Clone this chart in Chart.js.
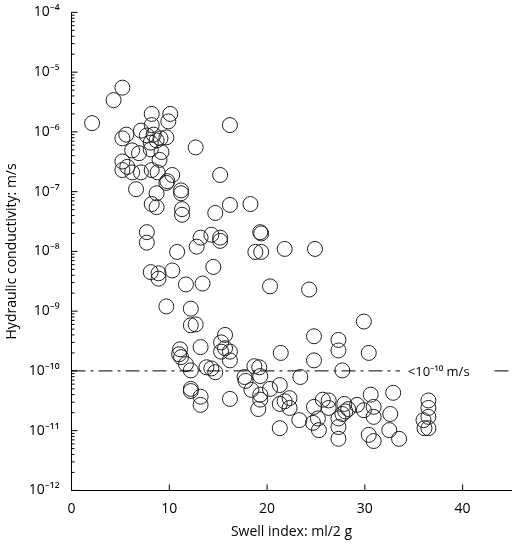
<!DOCTYPE html>
<html><head><meta charset="utf-8">
<script src="https://cdn.jsdelivr.net/npm/chart.js@4"></script>
<style>body{margin:0;background:#fff}#w{width:520px;height:544px}</style>
</head><body><div id="w"><canvas id="c"></canvas></div>
<script>
const swellIndex=[5.2,4.3,2.1,8.2,10.1,9.9,8.2,16.2,7.1,7.7,8.4,9.1,9.7,8.7,8.1,5.6,5.2,12.7,6.2,6.9,8.1,9.2,9.0,5.2,5.7,5.2,6.2,7.1,8.2,8.8,15.2,10.3,9.8,9.7,6.6,11.2,11.2,8.7,8.2,8.7,16.2,18.3,11.3,11.3,14.7,7.7,7.7,13.2,14.3,15.2,15.2,12.8,19.3,19.4,18.8,19.4,21.8,10.8,14.5,8.1,8.9,8.9,10.3,11.7,13.4,20.3,9.7,12.2,24.9,24.3,
12.2,12.7,15.7,15.3,13.2,11.1,11.0,11.2,11.7,12.2,13.8,14.3,14.7,15.3,16.2,16.2,15.7,18.7,19.2,19.3,17.7,17.8,18.4,20.3,21.3,19.3,19.3,19.1,16.2,12.2,12.2,13.2,13.2,21.4,24.8,24.8,27.3,27.3,27.7,29.9,30.4,23.4,21.3,22.3,21.8,22.3,24.8,25.2,24.7,25.3,23.3,21.3,25.7,26.3,26.3,27.9,29.2,28.3,28.0,27.7,27.3,27.3,27.3,29.9,30.9,30.9,30.6,32.9,32.6,32.5,30.4,30.9,33.5,36.5,36.5,36.5,36.0,36.5,36.1];
const conductivity=[5.5e-6,3.4e-6,1.4e-6,2.0e-6,2.0e-6,1.5e-6,1.3e-6,1.3e-6,1.05e-6,8.7e-7,9e-7,7.8e-7,8.1e-7,7.2e-7,6.6e-7,9e-7,7.8e-7,5.5e-7,4.9e-7,4.4e-7,5.1e-7,4.6e-7,3.4e-7,3.2e-7,2.6e-7,2.3e-7,2.1e-7,2.1e-7,2.3e-7,2.1e-7,1.9e-7,1.9e-7,1.5e-7,1.4e-7,1.1e-7,1.05e-7,9.4e-8,9.4e-8,6.2e-8,5.5e-8,6e-8,6.2e-8,5.1e-8,4.1e-8,4.4e-8,2.1e-8,1.4e-8,1.7e-8,1.9e-8,1.7e-8,1.5e-8,1.2e-8,2.1e-8,2.0e-8,9.8e-9,9.8e-9,1.1e-8,9.8e-9,5.5e-9,4.5e-9,4.3e-9,3.5e-9,4.8e-9,2.8e-9,2.9e-9,2.6e-9,1.2e-9,1.1e-9,1.1e-8,2.3e-9,
5.8e-10,6e-10,4e-10,3e-10,2.5e-10,2.3e-10,1.9e-10,1.7e-10,1.3e-10,1.02e-10,1.15e-10,1.1e-10,9.5e-11,2.1e-10,2.1e-10,1.5e-10,2.4e-10,1.2e-10,1.15e-10,8.2e-11,7.9e-11,6.8e-11,4.8e-11,5e-11,5.8e-11,4e-11,3.3e-11,2.3e-11,3.4e-11,5e-11,4.6e-11,3.7e-11,2.7e-11,2e-10,3.8e-10,1.5e-10,3.3e-10,2.2e-10,1.02e-10,6.7e-10,2e-10,7.9e-11,2.8e-11,3.5e-11,3.1e-11,2.4e-11,2.5e-11,1.6e-11,1.35e-11,1.02e-11,1.5e-11,1.1e-11,3.3e-11,3.2e-11,2.4e-11,2.8e-11,2.7e-11,2.3e-11,2.1e-11,1.9e-11,1.6e-11,1.15e-11,7.3e-12,2.2e-11,2.5e-11,1.7e-11,4e-11,4.3e-11,1.9e-11,1.02e-11,8.5e-12,6.7e-12,7.3e-12,3.2e-11,2.4e-11,1.7e-11,1.5e-11,1.1e-11,1.1e-11];
const xTicks=[0,10,20,30,40];
const yTicks=[1e-12,1e-11,1e-10,1e-9,1e-8,1e-7,1e-6,1e-5,1e-4];
const yTickLabels=['10⁻¹²','10⁻¹¹','10⁻¹⁰','10⁻⁹','10⁻⁸','10⁻⁷','10⁻⁶','10⁻⁵','10⁻⁴'];
const limitValue=1e-10, limitLabel='<10⁻¹⁰ m/s';
const FONT='"Open Sans", sans-serif';
const limitPlugin={id:'limit',afterDatasetsDraw(ch){
  const c=ch.ctx,a=ch.chartArea,ys=ch.scales.y,y=ys.getPixelForValue(limitValue);
  const tx=ch.scales.x.getPixelForValue(34.4);
  c.save();c.strokeStyle='#000';c.lineWidth=1;
  // minor ticks on y axis
  c.beginPath();
  for(let d=-12;d<-4;d++)for(let m=2;m<=9;m++){const p=ys.getPixelForValue(m*Math.pow(10,d));c.moveTo(a.left,p);c.lineTo(a.left+3,p);}
  yTicks.forEach(v=>{const p=ys.getPixelForValue(v);c.moveTo(a.left,p);c.lineTo(a.left+6,p);});
  ch.scales.x.ticks.forEach(t=>{const p=ch.scales.x.getPixelForValue(t.value);c.moveTo(p,a.bottom);c.lineTo(p,a.bottom-6);});
  c.stroke();
  c.setLineDash([14,5,3,5]);
  c.beginPath();c.moveTo(a.left,y);c.lineTo(tx-8,y);c.stroke();
  c.beginPath();c.moveTo(a.right-17,y);c.lineTo(a.right,y);c.stroke();
  c.setLineDash([]);c.fillStyle='#000';c.font='13px '+FONT;c.textBaseline='middle';
  c.fillText(limitLabel,tx,y+1);c.restore();}};
new Chart(document.getElementById('c'),{type:'scatter',
 data:{datasets:[{data:swellIndex.map((x,i)=>({x,y:conductivity[i]})),pointRadius:7.5,pointHoverRadius:7.5,
  borderColor:'#222',borderWidth:1,backgroundColor:'rgba(0,0,0,0)'}]},
 options:{responsive:true,maintainAspectRatio:false,animation:false,
  layout:{padding:{top:5,right:5,left:4,bottom:4}},
  plugins:{legend:{display:false},tooltip:{enabled:false}},
  scales:{
   x:{type:'linear',min:0,max:45,afterBuildTicks:s=>{s.ticks=xTicks.map(v=>({value:v}))},
     grid:{display:false},border:{color:'#000'},
     ticks:{color:'#000',font:{family:FONT,size:14},padding:2},
     title:{display:true,text:'Swell index: ml/2 g',color:'#000',font:{family:FONT,size:14},padding:{top:4,bottom:0}}},
   y:{type:'logarithmic',min:1e-12,max:1e-4,afterBuildTicks:s=>{s.ticks=yTicks.map(v=>({value:v}))},
     grid:{display:false},border:{color:'#000'},
     ticks:{color:'#000',font:{family:FONT,size:14},padding:4,callback:(v,i)=>yTickLabels[i]},
     title:{display:true,text:'Hydraulic conductivity: m/s',color:'#000',font:{family:FONT,size:14},padding:{top:0,bottom:4}}}}},
 plugins:[limitPlugin]});
</script></body></html>
